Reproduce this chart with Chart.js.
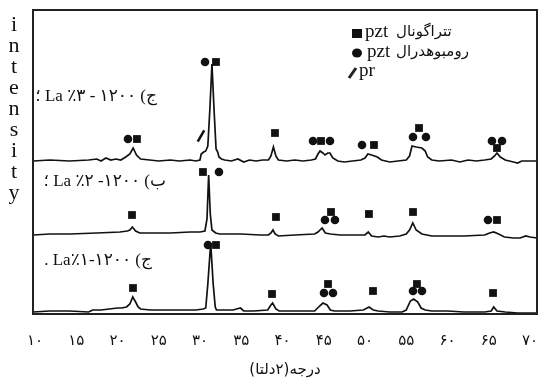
<!DOCTYPE html>
<html>
<head>
<meta charset="utf-8">
<script src="https://cdn.jsdelivr.net/npm/chart.js@4/dist/chart.umd.min.js"></script>
<style>
  html, body { margin: 0; padding: 0; background: #fff; }
  canvas { display: block; }
</style>
</head>
<body>
<canvas id="xrd" width="538" height="380"></canvas>
<script>
// 2-theta (deg) vs intensity (arbitrary, stacked offsets)
const trace3 = [
  [9.76,153],[11.8,154],[14.2,153],[16.5,154],[17.5,155],[18.0,153],[18.6,156],[19.2,154],
  [19.8,155],[20.4,154],[21.0,157],[21.5,160],[21.9,166],[22.3,159],[22.8,155],[23.9,154],
  [25.0,153],[26.4,154],[27.5,153],[28.8,154],[29.5,153],[30.0,154],[30.15,160],[30.45,162],
  [30.7,163],[30.95,168],[31.2,205],[31.45,250],[31.7,205],[31.95,165],[32.15,162],[32.3,157],
  [32.6,155],[33.0,154],[33.8,153],[34.6,155],[35.3,152],[36.0,154],[36.8,153],[37.6,154],
  [38.3,154],[38.6,158],[38.9,167],[39.2,158],[39.5,154],[40.5,153],[41.5,154],[42.5,153],
  [43.5,154],[44.0,155],[44.3,160],[44.55,163],[44.9,161],[45.15,159],[45.5,161],[45.75,161],
  [46.1,156],[46.7,153],[47.5,152],[48.5,153],[49.5,154],[50.0,156],[50.35,160],[50.8,159],
  [51.5,157],[52.0,154],[53.0,152],[54.0,153],[55.0,154],[55.4,158],[55.7,168],[56.2,167],
  [56.9,166],[57.3,163],[57.6,157],[58.1,154],[59.0,153],[60.5,154],[61.5,152],[62.5,154],
  [63.5,153],[64.5,154],[65.3,155],[65.7,158],[66.0,161],[66.4,157],[67.0,154],[68.0,152],
  [68.5,151],[69.0,153],[70.0,153],[70.85,153]
];
const trace2 = [
  [9.76,79],[11.8,80],[14.2,80],[17.5,81],[20.3,82],[21.2,83],[21.5,84],[21.8,87],
  [22.2,83],[22.7,81],[24.0,81],[26.4,81],[28.8,82],[30.0,82],[30.6,83],[30.85,95],
  [31.05,139],[31.25,100],[31.45,84],[31.9,81],[32.4,80],[35.0,80],[37.3,79],[38.3,79],
  [38.6,81],[38.85,84],[39.1,80],[39.5,78],[41.5,79],[43.9,80],[44.3,82],[44.8,86],
  [45.2,81],[45.8,80],[47.0,79],[48.5,79],[50.0,79],[50.4,82],[50.8,78],[51.6,77],
  [52.3,78],[53.0,77],[54.2,78],[55.0,80],[55.4,84],[55.8,91],[56.2,84],[56.9,80],
  [58.1,78],[60.0,78],[62.0,78],[64.5,79],[65.1,81],[65.6,82],[66.2,80],[66.9,77],
  [68.0,76],[68.8,76],[69.5,78],[70.0,77],[70.85,76]
];
const trace1 = [
  [9.76,2],[11.8,3],[14.2,3],[16.5,2],[17.0,4],[18.0,4],[19.0,5],[20.0,6],[20.5,6],
  [21.1,7],[21.5,10],[21.85,17],[22.2,12],[22.5,7],[22.8,5],[24.0,4],[26.0,4],[28.0,4],
  [29.5,4],[30.4,5],[30.7,6],[30.95,30],[31.3,71],[31.6,30],[31.85,7],[32.0,4],[33.0,4],
  [34.0,4],[34.9,6],[35.3,3],[36.5,3],[38.2,4],[38.6,9],[38.8,11],[39.2,5],[39.6,3],
  [42.0,3],[43.9,3],[44.5,8],[44.9,11],[45.4,9],[45.8,4],[46.3,3],[48.2,3],[49.8,4],
  [50.5,7],[51.0,4],[51.6,3],[53.0,2],[54.5,2],[55.0,4],[55.5,13],[55.9,15],[56.4,12],
  [56.8,6],[57.3,4],[58.1,3],[60.0,3],[62.0,2],[64.5,2],[65.3,3],[65.6,7],[66.0,3],
  [67.0,2],[68.5,1],[70.0,1],[70.85,1]
];

// phase markers
const tetragonal = [
  [22.36,175],[31.94,252],[39.09,181],[44.67,173],[51.09,169],[56.55,186],[66.0,166],
  [21.76,99],[30.36,142],[39.21,97],[45.88,102],[50.48,100],[55.82,102],[66.0,94],
  [21.88,26],[31.94,69],[38.73,20],[45.52,30],[50.97,23],[56.30,30],[65.52,21]
];
const rhombohedral = [
  [21.27,175],[30.61,252],[43.70,173],[45.76,173],[49.64,169],[55.82,177],[57.39,177],
  [65.39,173],[66.61,173],
  [32.30,142],[45.15,94],[46.36,94],[64.91,94],
  [30.97,69],[45.03,21],[46.12,21],[55.82,23],[56.91,23]
];
const prPhase = [[30.12,178]];

const xTicks = [10, 15, 20, 25, 30, 35, 40, 45, 50, 55, 60, 65, 70];
const xTickLabels = ['۱۰','۱۵','۲۰','۲۵','۳۰','۳۵','۴۰','۴۵','۵۰','۵۵','۶۰','۶۵','۷۰'];

const seriesLabels = ['ج) ۱۲۰۰ - ۳٪ La ؛', 'ب) ۱۲۰۰- ۲٪ La ؛', 'ج) ۱۲۰۰-۱٪La .'];
const legendLabels = ['تتراگونال', 'رومبوهدرال'];
const yTitle = 'intensity';
const xTitle = 'درجه(۲دلتا)';

const toPts = arr => arr.map(([x, y]) => ({ x, y }));
const ink = '#111';

const lineSet = arr => ({
  data: toPts(arr),
  showLine: true,
  borderColor: ink,
  borderWidth: 1.7,
  pointRadius: 0,
  tension: 0
});

// frame, stacked y title, series labels and legend
const annotate = {
  id: 'annotate',
  afterDraw(chart) {
    const { ctx, chartArea: a } = chart;
    ctx.save();
    ctx.strokeStyle = '#222';
    ctx.lineWidth = 2;
    ctx.strokeRect(a.left, a.top, a.right - a.left, a.bottom - a.top);

    ctx.fillStyle = ink;
    ctx.font = '22px "Liberation Serif"';
    ctx.textAlign = 'center';
    ctx.textBaseline = 'alphabetic';
    yTitle.split('').forEach((ch, i) => ctx.fillText(ch, 14, 31 + i * 21));

    ctx.font = '17px "Liberation Serif", "DejaVu Sans"';
    ctx.direction = 'rtl';
    ctx.textAlign = 'right';
    ctx.textBaseline = 'middle';
    ctx.fillText(seriesLabels[0], 157, 97);
    ctx.fillText(seriesLabels[1], 166, 182);
    ctx.fillText(seriesLabels[2], 152, 261);

    // legend
    ctx.direction = 'ltr';
    ctx.textAlign = 'left';
    ctx.textBaseline = 'alphabetic';
    ctx.fillRect(352, 29, 10, 9);
    ctx.beginPath();
    ctx.ellipse(357, 53, 5, 4.5, 0, 0, Math.PI * 2);
    ctx.fill();
    ctx.lineWidth = 3;
    ctx.beginPath();
    ctx.moveTo(349, 78);
    ctx.lineTo(356, 68);
    ctx.stroke();
    ctx.font = '19px "Liberation Serif"';
    ctx.fillText('pzt', 365, 37);
    ctx.fillText('pzt', 367, 57);
    ctx.fillText('pr', 359, 76);
    ctx.font = '15px "DejaVu Sans"';
    ctx.fillText(legendLabels[0], 396, 36);
    ctx.fillText(legendLabels[1], 396, 56);
    ctx.restore();
  }
};

new Chart(document.getElementById('xrd'), {
  type: 'scatter',
  data: {
    datasets: [
      lineSet(trace3),
      lineSet(trace2),
      lineSet(trace1),
      {
        data: toPts(tetragonal),
        pointStyle: 'rect',
        pointRadius: 5.5,
        backgroundColor: ink,
        borderWidth: 0
      },
      {
        data: toPts(rhombohedral),
        pointStyle: 'circle',
        pointRadius: 4.3,
        backgroundColor: ink,
        borderWidth: 0
      },
      {
        data: toPts(prPhase),
        pointStyle: 'line',
        pointRadius: 6.5,
        rotation: -60,
        borderColor: ink,
        borderWidth: 2.5
      }
    ]
  },
  options: {
    responsive: false,
    animation: false,
    layout: { autoPadding: false, padding: { left: 33, right: 1, top: 10, bottom: 0 } },
    plugins: { legend: { display: false }, tooltip: { enabled: false } },
    scales: {
      x: {
        type: 'linear',
        min: 9.76,
        max: 70.85,
        afterBuildTicks: axis => { axis.ticks = xTicks.map(v => ({ value: v })); },
        afterFit: axis => { axis.paddingLeft = 0; axis.paddingRight = 0; },
        grid: { display: false, drawTicks: true, tickLength: 18 },
        border: { display: false },
        ticks: {
          padding: 0,
          color: ink,
          font: { family: 'DejaVu Sans', size: 15 },
          callback: v => xTickLabels[xTicks.indexOf(v)]
        },
        title: {
          display: true,
          text: '\u200F' + xTitle + '\u200F',
          color: ink,
          font: { family: 'DejaVu Sans', size: 15 },
          padding: { top: 11, bottom: 1 }
        }
      },
      y: {
        min: 0,
        max: 304,
        display: false
      }
    }
  },
  plugins: [annotate]
});
</script>
</body>
</html>
